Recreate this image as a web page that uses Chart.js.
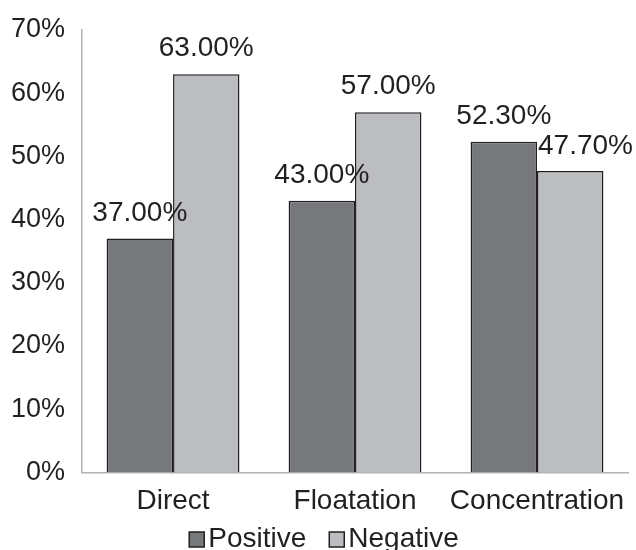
<!DOCTYPE html>
<html>
<head>
<meta charset="utf-8">
<script src="https://cdn.jsdelivr.net/npm/chart.js@4/dist/chart.umd.min.js"></script>
<style>
  html, body { margin: 0; padding: 0; background: #ffffff; }
  #wrap { width: 636px; height: 550px; }
</style>
</head>
<body>
<div id="wrap"><canvas id="c" width="636" height="550"></canvas></div>
<script>
const categories = ['Direct', 'Floatation', 'Concentration'];
const positiveValues = [37.0, 43.0, 52.3];
const negativeValues = [63.0, 57.0, 47.7];
const seriesNames = ['Positive', 'Negative'];

const FONT = '"Liberation Sans", Arial, sans-serif';
const TEXT = '#231f20';
const DARK = '#77787b';
const LIGHT = '#bcbdc0';

// Value labels over each bar; the last one starts at its bar's left edge
// so it stays clear of the neighbouring label.
const leftAligned = { '1:2': true };
const valueLabels = {
  id: 'valueLabels',
  afterDatasetsDraw(chart) {
    const ctx = chart.ctx;
    ctx.save();
    ctx.font = '28px ' + FONT;
    ctx.fillStyle = TEXT;
    ctx.textBaseline = 'alphabetic';
    chart.data.datasets.forEach((ds, di) => {
      chart.getDatasetMeta(di).data.forEach((bar, i) => {
        const txt = ds.data[i].toFixed(2) + '%';
        if (leftAligned[di + ':' + i]) {
          ctx.textAlign = 'left';
          ctx.fillText(txt, bar.x - bar.width / 2 + 1, bar.y - 17);
        } else {
          ctx.textAlign = 'center';
          ctx.fillText(txt, bar.x, bar.y - 18);
        }
      });
    });
    ctx.restore();
  }
};

// Legend row under the category labels: small square swatch, text right next to it.
const bottomLegend = {
  id: 'bottomLegend',
  afterDraw(chart) {
    const ctx = chart.ctx;
    ctx.save();
    ctx.font = '28px ' + FONT;
    ctx.textBaseline = 'alphabetic';
    ctx.textAlign = 'left';
    const box = 15, gap = 4, spacing = 23;
    const items = chart.data.datasets.map(ds => ({
      text: ds.label, fill: ds.backgroundColor, w: ctx.measureText(ds.label).width
    }));
    const total = items.reduce((s, it) => s + box + gap + it.w, 0) + spacing * (items.length - 1);
    let x = chart.width / 2 - total / 2 + 6;
    const baseline = 547;
    items.forEach(it => {
      ctx.fillStyle = it.fill;
      ctx.fillRect(x, baseline - 15, box, box);
      ctx.strokeStyle = TEXT;
      ctx.lineWidth = 1.5;
      ctx.strokeRect(x, baseline - 15, box, box);
      ctx.fillStyle = TEXT;
      ctx.fillText(it.text, x + box + gap, baseline);
      x += box + gap + it.w + spacing;
    });
    ctx.restore();
  }
};

new Chart(document.getElementById('c'), {
  type: 'bar',
  data: {
    labels: categories,
    datasets: [
      { label: seriesNames[0], data: positiveValues, backgroundColor: DARK, borderColor: TEXT, borderWidth: 1.5 },
      { label: seriesNames[1], data: negativeValues, backgroundColor: LIGHT, borderColor: TEXT, borderWidth: 1.5 }
    ]
  },
  options: {
    responsive: false,
    animation: false,
    devicePixelRatio: 1,
    layout: { padding: { top: 30, right: 8, left: 2, bottom: 28 } },
    datasets: { bar: { categoryPercentage: 0.73, barPercentage: 1 } },
    plugins: {
      legend: { display: false },
      tooltip: { enabled: false }
    },
    scales: {
      x: {
        grid: { display: false },
        border: { display: true, color: '#b3b3b3', width: 1.5 },
        ticks: { color: TEXT, font: { family: FONT, size: 28 }, padding: 4 }
      },
      y: {
        min: 0, max: 70,
        grid: { display: false },
        border: { display: true, color: '#b3b3b3', width: 1.5 },
        ticks: {
          stepSize: 10, color: TEXT, font: { family: FONT, size: 27 }, padding: 9,
          callback: v => v + '%'
        }
      }
    }
  },
  plugins: [valueLabels, bottomLegend]
});
</script>
</body>
</html>
